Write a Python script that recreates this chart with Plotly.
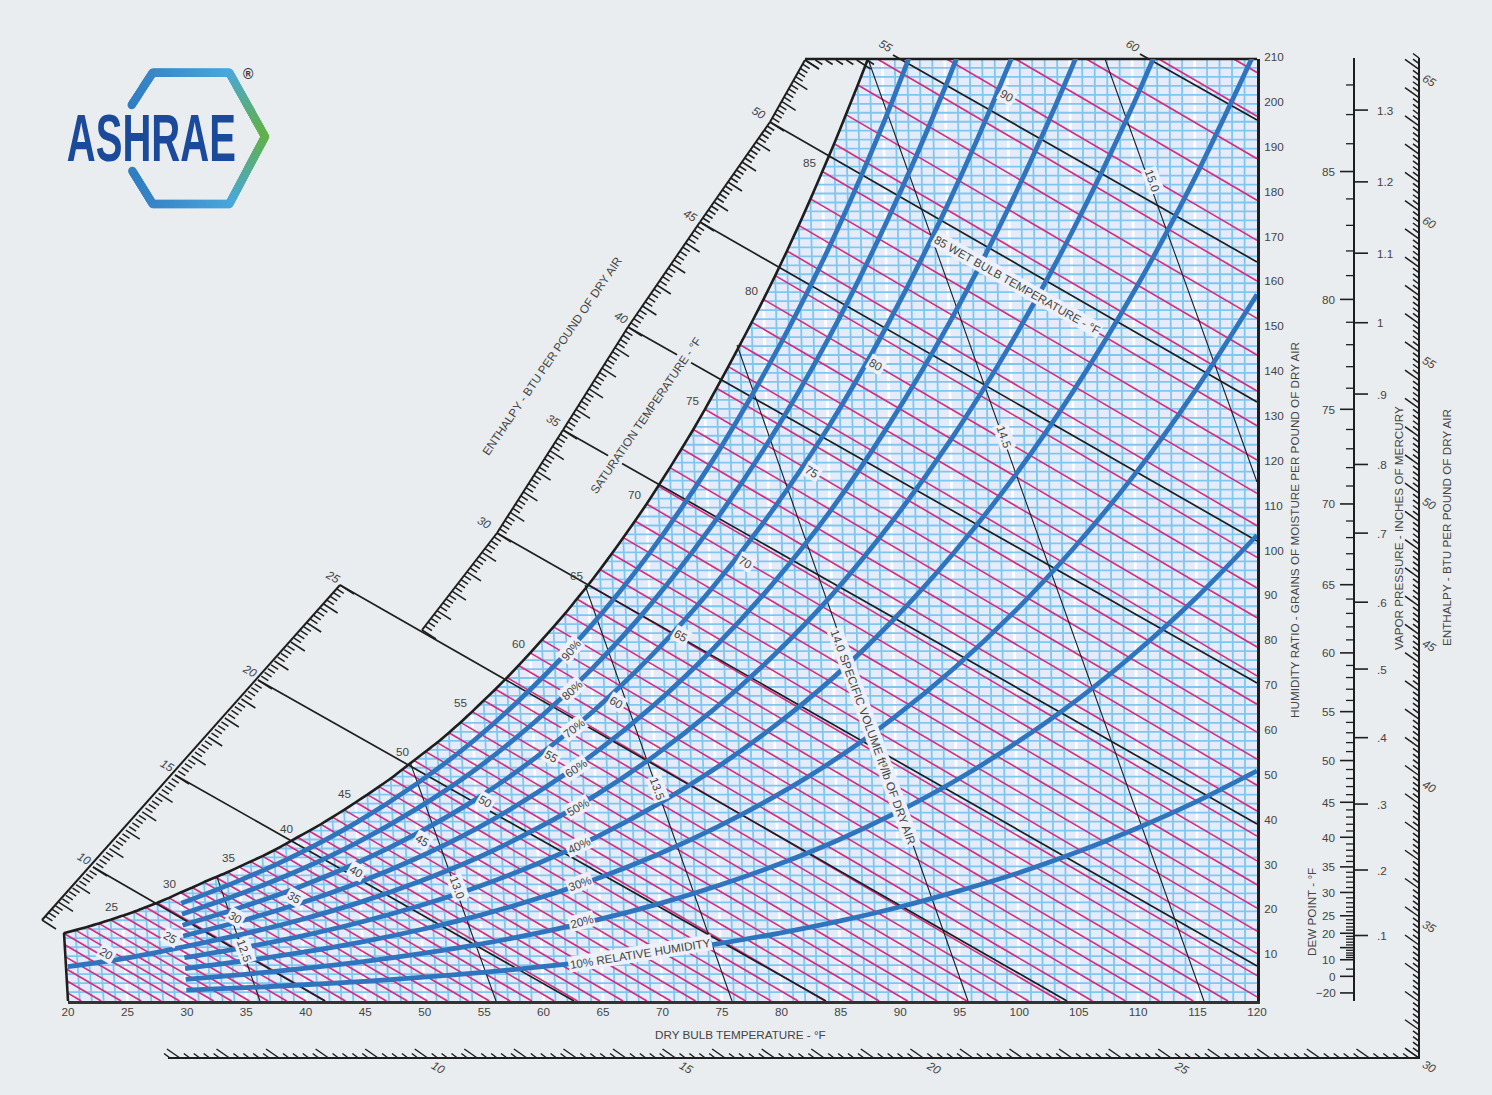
import numpy as np
import plotly.graph_objects as go

# ---------- data ----------
dry_bulb_ticks = list(range(20, 121, 5))
humidity_ticks = list(range(10, 211, 10))

sat_temp = list(range(20, 95))
sat_grains = [15.1, 15.8, 16.5, 17.3, 18.1, 19.0, 19.9, 20.9, 21.9, 23.0,
              24.2, 25.3, 26.5, 27.6, 28.7, 29.9, 31.1, 32.3, 33.6, 35.0,
              36.5, 37.9, 39.4, 41.0, 42.6, 44.3, 46.0, 47.8, 49.6, 51.6,
              53.6, 55.6, 57.6, 59.8, 62.1, 64.5, 67.0, 69.5, 72.1, 74.8,
              77.6, 80.5, 83.4, 86.4, 89.6, 92.8, 96.2, 99.7, 103.3, 107.0,
              110.8, 114.8, 118.9, 123.1, 127.4, 131.9, 136.6, 141.4, 146.3, 151.3,
              156.4, 161.7, 167.2, 172.9, 178.8, 184.9, 191.1, 197.6, 204.2, 211.0,
              218.5, 225.9, 233.6, 241.5, 249.7]
wet_bulb_left_edge = [12.6, 9.9, 7.2, 4.5, 1.8]

rh_temp = [30, 35, 40, 45, 50, 55, 60, 65, 70, 75, 80, 85, 90, 95, 100, 105, 110, 115, 120]
rh_10 = [2.41, 2.97, 3.62, 4.39, 5.30, 6.37, 7.64, 9.11, 10.83, 12.84, 15.15, 17.81, 20.9, 24.5, 28.5, 33.2, 38.5, 44.5, 51.3]
rh_20 = [4.82, 5.95, 7.25, 8.79, 10.62, 12.75, 15.30, 18.25, 21.72, 25.76, 30.41, 35.78, 42.03, 49.2, 57.5, 66.9, 77.7, 89.9, 103.8]
rh_30 = [7.23, 8.93, 10.89, 13.20, 15.94, 19.15, 23.0, 27.44, 32.66, 38.76, 45.78, 53.88, 63.35, 74.25, 86.75, 101.1, 117.4, 136.2, 157.5]
rh_40 = [9.65, 11.91, 14.53, 17.61, 21.28, 25.57, 30.71, 36.65, 43.66, 51.83, 61.26, 72.15, 84.89, 99.6, 116.4, 135.8, 158.0, 183.5, 212.6]
rh_50 = [12.07, 14.9, 18.17, 22.04, 26.64, 32.0, 38.46, 45.9, 54.7, 64.97, 76.8, 90.5, 106.6, 125.1, 146.5, 171.1, 199.4, 231.8]
rh_60 = [14.49, 17.89, 21.83, 26.47, 32.0, 38.47, 46.24, 55.2, 65.8, 78.2, 92.5, 109.1, 128.6, 151.0, 177.0, 207.0, 241.5]
rh_70 = [16.9, 20.9, 25.49, 30.92, 37.38, 44.95, 54.03, 64.55, 76.98, 91.5, 108.3, 127.8, 150.7, 177.2, 207.9, 243.4]
rh_80 = [19.34, 23.89, 29.15, 35.37, 42.78, 51.45, 61.87, 73.93, 88.2, 104.9, 124.2, 146.7, 173.1, 203.7, 239.2]
rh_90 = [21.77, 26.89, 32.82, 39.83, 48.18, 57.96, 69.71, 83.35, 99.47, 118.4, 140.3, 165.7, 195.7, 230.5]
rh_50_low_temp = [20, 25]
rh_50_low = [7.6, 9.5]

dew_point_major = [-20, 0, 10, 20, 25, 30, 35, 40, 45, 50, 55, 60, 65, 70, 75, 80, 85]
dew_point_major_grains = [1.8, 5.5, 9.2, 15.1, 19.0, 24.2, 29.9, 36.5, 44.3, 53.6, 64.5, 77.6, 92.8, 110.8, 131.9, 156.4, 184.9]
dew_point_low_minor_grains = [7.1, 9.7, 10.2, 10.7, 11.3, 12.5, 13.1, 13.8, 14.4]
dew_point_15_grains = 11.9
vapor_labels = ["1.3", "1.2", "1.1", "1", ".9", ".8", ".7", ".6", ".5", ".4", ".3", ".2", ".1"]
vapor_grains = [198.6, 182.6, 166.7, 151.2, 135.3, 119.6, 104.3, 88.9, 74.0, 58.7, 43.9, 29.2, 14.6]

enthalpy_values = [10, 15, 20, 25, 30, 35, 40, 45, 50, 55, 60]

BG = "#E9EDF0"
FILL = "#E6EBFA"
GRID = "#7FC7EF"
PINK = "#D42C7C"
BLUE = "#2F74BD"
INK = "#1E1E1E"
TXT = "#444444"
FONT = "Liberation Sans"
FS = 11.7
W_PX, H_PX = 1492, 1095

# ---------- geometry helpers ----------
def X(px):
    return 20 + (np.asarray(px, float) - 68) / 11.89

def Y(py):
    return (1001 - np.asarray(py, float)) / 4.486

def PX(px):
    return px / W_PX

def PY(py):
    return 1 - py / H_PX

def skew(t, w):
    t = np.asarray(t, float)
    return t - 0.000241 * (120 - t) * np.asarray(w, float)

st = np.array(sat_temp, float)
sw = np.array(sat_grains, float)

def join(segs):
    xs, ys = [], []
    for (a, b) in segs:
        xs += [a[0], b[0], None]
        ys += [a[1], b[1], None]
    return xs, ys

fig = go.Figure()

def lines(x, y, color, width, **kw):
    fig.add_trace(go.Scatter(x=x, y=y, mode="lines", line=dict(color=color, width=width, **kw),
                             hoverinfo="skip", showlegend=False))

def seg_px(pairs, color, width):
    segs = [((float(X(a)), float(Y(b))), (float(X(c)), float(Y(d)))) for a, b, c, d in pairs]
    x, y = join(segs)
    lines(x, y, color, width)

# chart area
t_top = float(np.interp(210, sw, st))
mask = st <= t_top
cx = list(skew(st[mask], sw[mask])) + [float(skew(t_top, 210)), 120, 120, 20]
cy = list(sw[mask]) + [210, 210, 0, 0]
fig.add_trace(go.Scatter(x=cx, y=cy, mode="none", fill="toself", fillcolor=FILL,
                         hoverinfo="skip", showlegend=False))

# dry bulb and humidity grid
def vline(t):
    top = min(float(np.interp(t, st, sw)), 210)
    return ((float(t), 0), (float(skew(t, top)), top))

x, y = join([vline(t) for t in range(20, 120, 5)])
lines(x, y, "#FFFFFF", 2.6)
segs = []
for w in range(2, 210, 2):
    t0 = float(np.interp(w, sw, st))
    segs.append(((float(skew(t0, w)), w), (120, w)))
x, y = join(segs)
lines(x, y, GRID, 1.8)
x, y = join([vline(t) for t in range(21, 120) if t % 5])
lines(x, y, GRID, 1.8)

# wet bulb lines
K = 1.55
segs = []
starts = [(float(skew(t, w)), float(w)) for t, w in zip(st, sw)] + \
         [(float(skew(20, w)), float(w)) for w in wet_bulb_left_edge]
for x0, w0 in starts:
    if w0 > 210:
        x0 += (w0 - 210) / K
        w0 = 210
    x1 = x0 + w0 / K
    w1 = 0.0
    if x1 > 120:
        x1 = 120.0
        w1 = w0 - K * (120 - x0)
    if x0 < 120:
        segs.append(((x0, w0), (x1, w1)))
x, y = join(segs)
lines(x, y, PINK, 1.6)

# enthalpy lines (pixels)
seg_px([(93, 867, 325, 1001), (175, 775, 574, 1001), (258, 680, 826, 1001), (340, 585, 1067, 1001),
        (497, 533, 1257, 966), (563, 430, 1257, 824), (628, 327, 1257, 683), (700, 222, 1257, 541),
        (770, 122, 1257, 402), (893, 55, 1257, 262), (1140, 54, 1257, 120)], INK, 1.7)

# specific volume lines
seg_px([(217, 877, 260, 1001), (410, 762, 496, 1001), (585, 585, 732, 1001),
        (737, 345, 968, 1001), (868, 59, 1204, 1001), (1105, 59, 1257, 482)], INK, 1.1)

# saturation curve and frame
lines(list(cx[:-3]), list(cy[:-3]), INK, 2.6, shape="spline", smoothing=0.5)
seg_px([(64, 933, 68, 1001), (805, 59, 1257, 59)], INK, 2.6)

# enthalpy hatch scales
def hatch(h_pos, x_pos, y_pos, long_v, short_v, width=1.5, step=0.2):
    pairs = []
    h0, h1 = h_pos[0], h_pos[-1]
    n = int(round((h1 - h0) / step))
    for i in range(n + 1):
        h = h0 + i * step
        px = float(np.interp(h, h_pos, x_pos))
        py = float(np.interp(h, h_pos, y_pos))
        is_long = abs(h - round(h)) < 1e-6
        v = long_v if is_long else short_v
        pairs.append((px, py, px + v[0], py + v[1]))
    seg_px(pairs, INK, width)

hatch([7, 10, 15, 20, 25], [42, 93, 175, 258, 340], [920, 867, 775, 680, 585], (14, 9), (7, 4.5))
hatch([25, 30, 35, 40, 45, 50, 53], [422, 497, 563, 628, 700, 770, 805], [630, 533, 430, 327, 222, 122, 60], (14, 9), (7, 4.5))
hatch([53, 54.2], [805, 867], [60, 60], (14, 9), (7, 4.5))
seg_px([(42, 920, 340, 585), (422, 630, 497, 533), (497, 533, 563, 430), (563, 430, 628, 327),
        (628, 327, 700, 222), (700, 222, 770, 122), (770, 122, 805, 60)], INK, 2.0)
hatch([30, 65.4], [1419, 1419], [1058, 58], (-14, -10), (-6, -4.5))
hatch([4.8, 30], [170, 1419], [1058, 1058], (-13, -9), (-6, -4.5))
seg_px([(1419, 58, 1419, 1059), (168, 1058, 1420, 1058)], INK, 2.0)

# dew point and vapor pressure scale
DEW_X = 1354
seg_px([(DEW_X, 58, DEW_X, 1001)], INK, 2.0)
def ytick(w, dx):
    py = 1001 - w * 4.486
    return (DEW_X, py, DEW_X + dx, py)
seg_px([ytick(w, -14) for w in dew_point_major_grains + [dew_point_15_grains]], INK, 1.6)
minor = [float(np.interp(t, st, sw)) for t in range(21, 89) if t % 5] + dew_point_low_minor_grains
seg_px([ytick(w, -8) for w in minor], INK, 1.3)
seg_px([ytick(w, 14) for w in vapor_grains], INK, 1.6)

# logo ring
ring_px = [(131.7, 105), (152.7, 72.7), (229.3, 72.7), (265, 136.7), (229.3, 204), (152.7, 204), (131.7, 170)]
ring_col = [(47, 127, 193), (58, 134, 200), (74, 168, 220), (98, 178, 70), (74, 168, 220), (58, 134, 200), (47, 127, 193)]
rx, ry, rc = [], [], []
for i in range(len(ring_px) - 1):
    a, b = ring_px[i], ring_px[i + 1]
    ca, cb = ring_col[i], ring_col[i + 1]
    n = int(max(abs(b[0] - a[0]), abs(b[1] - a[1])))
    for k in range(n):
        f = k / n
        rx.append(a[0] + (b[0] - a[0]) * f)
        ry.append(a[1] + (b[1] - a[1]) * f)
        rc.append("rgb(%d,%d,%d)" % tuple(ca[j] + (cb[j] - ca[j]) * f for j in range(3)))
fig.add_trace(go.Scatter(x=X(rx), y=Y(ry), mode="markers", hoverinfo="skip", showlegend=False,
                         marker=dict(size=8.4, color=rc, line=dict(width=0))))

# relative humidity curves, on the chart's own axes so the frame clips them
for vals in [rh_10, rh_20, rh_30, rh_40, rh_60, rh_70, rh_80, rh_90]:
    t = np.array(rh_temp[:len(vals)], float)
    fig.add_trace(go.Scatter(x=skew(t, vals), y=vals, xaxis="x2", yaxis="y2", mode="lines", hoverinfo="skip",
                             showlegend=False, line=dict(color=BLUE, width=4.8, shape="spline", smoothing=0.8)))
t = np.array(rh_50_low_temp + rh_temp[:len(rh_50)], float)
v = rh_50_low + rh_50
fig.add_trace(go.Scatter(x=skew(t, v), y=v, xaxis="x2", yaxis="y2", mode="lines", hoverinfo="skip",
                         showlegend=False, line=dict(color=BLUE, width=4.8, shape="spline", smoothing=0.8)))

# ---------- text ----------
ann = []
def label(text, px, py, angle=0, size=FS, box=None, color=TXT, pad=1, family=FONT, weight=None):
    f = dict(family=family, size=size, color=color)
    if weight:
        f["weight"] = weight
    ann.append(dict(text=text, x=PX(px), y=PY(py), xref="paper", yref="paper", showarrow=False,
                    xanchor="center", yanchor="middle", textangle=angle, font=f,
                    bgcolor=box if box else "rgba(0,0,0,0)", borderpad=pad))

for v_, px, py in zip(range(25, 90, 5),
                      [112, 170, 229, 287, 345, 403, 461, 519, 577, 635, 693, 752, 810],
                      [906, 883, 857, 828, 793, 751, 702, 643, 575, 494, 400, 290, 162]):
    label(str(v_), px, py)

for v_, px, py in zip(enthalpy_values,
                      [85, 168, 250, 333, 485, 554, 622, 691, 759, 886, 1133],
                      [858, 765, 670, 576, 522, 420, 317, 215, 113, 46, 46]):
    label("<i>%d</i>" % v_, px, py, 30)
for v_, py in zip(range(65, 29, -5), [80, 222, 362, 503, 645, 786, 926, 1066]):
    label("<i>%d</i>" % v_, 1430, py, 30)
for v_, px in zip([10, 15, 20, 25], [439, 687, 934, 1182]):
    label("<i>%d</i>" % v_, px, 1067, 30)

WB_BOX = "#EDF0F8"
for v_, px, py in zip([20, 25, 30, 35, 40, 45, 50, 55, 60, 65, 70, 75, 80, 90],
                      [107, 171, 236, 295, 357, 423, 486, 552, 617, 681, 746, 812, 876, 1007],
                      [953, 937, 917, 897, 871, 840, 801, 756, 702, 636, 562, 472, 365, 96]):
    label(str(v_), px, py, 30, box=WB_BOX)
label("85 WET BULB TEMPERATURE - °F", 1017, 285, 29.5, box=WB_BOX)

for text, px, py, a in [("90%", 570, 650, -50), ("80%", 571, 690, -42), ("70%", 573, 728, -38),
                        ("60%", 575, 768, -33), ("50%", 577, 807, -30), ("40%", 578, 845, -25),
                        ("30%", 579, 883, -20), ("20%", 581, 921, -15),
                        ("10% RELATIVE HUMIDITY", 640, 953, -9)]:
    label(text, px, py, a, box=WB_BOX)

for text, px, py in [("12.5", 245, 950), ("13.0", 458, 887), ("13.5", 658, 788), ("14.5", 1005, 437), ("15.0", 1153, 180)]:
    label(text, px, py, 70, box=WB_BOX)
label("14.0 SPECIFIC VOLUME ft³/lb OF DRY AIR", 874, 737, 70, box=WB_BOX)

label("ENTHALPY - BTU PER POUND OF DRY AIR", 551, 356, -55.6)
label("SATURATION TEMPERATURE - °F", 645, 415, -55.6, box=BG)
label("DRY BULB TEMPERATURE - °F", 740, 1034)
label("DEW POINT - °F", 1311, 912, -90)
label("VAPOR PRESSURE - INCHES OF MERCURY", 1398, 528, -90)
label("ENTHALPY - BTU PER POUND OF DRY AIR", 1446, 528, -90)

for v_, w in zip(dew_point_major, dew_point_major_grains):
    ann.append(dict(text=("−20" if v_ < 0 else str(v_)), x=PX(1338), y=PY(1001 - w * 4.486), xref="paper", yref="paper",
                    showarrow=False, xanchor="right", yanchor="middle", font=dict(family=FONT, size=FS, color=TXT)))
for s_, w in zip(vapor_labels, vapor_grains):
    ann.append(dict(text=s_, x=PX(1375), y=PY(1001 - w * 4.486), xref="paper", yref="paper",
                    showarrow=False, xanchor="left", yanchor="middle", font=dict(family=FONT, size=FS, color=TXT)))

label("ASHRAE", 151.5, 138, 0, size=66, color="#1C4A9A", weight="bold")
label("®", 248, 74, 0, size=14, color="#333333", weight="bold")

axis_font = dict(family=FONT, size=FS, color=TXT)
fig.update_layout(
    width=W_PX, height=H_PX,
    margin=dict(l=0, r=0, t=0, b=0, autoexpand=False),
    paper_bgcolor=BG, plot_bgcolor="rgba(0,0,0,0)",
    showlegend=False,
    annotations=ann,
    font=dict(family=FONT, size=FS, color=TXT),
    # whole-page axes in the same units as the chart axes
    xaxis=dict(domain=[0, 1], range=[float(X(0)), float(X(W_PX))], visible=False, showgrid=False, zeroline=False),
    yaxis=dict(domain=[0, 1], range=[float(Y(H_PX)), float(Y(0))], visible=False, showgrid=False, zeroline=False),
    xaxis2=dict(domain=[68 / W_PX, 1257 / W_PX], anchor="y2", range=[20, 120], tickvals=dry_bulb_ticks,
                showgrid=False, zeroline=False, showline=True, linecolor="#333333", linewidth=2.6,
                ticks="", tickfont=axis_font, ticklabelstandoff=-2),
    yaxis2=dict(domain=[1 - 1001 / H_PX, 1 - 59 / H_PX], anchor="x2", range=[0, 210], side="right",
                tickvals=humidity_ticks, showgrid=False, zeroline=False, showline=True, linecolor=INK,
                linewidth=2.6, ticks="outside", ticklen=2, tickwidth=1, tickcolor="rgba(0,0,0,0)",
                tickfont=axis_font, ticklabelshift=-2,
                title=dict(text="HUMIDITY RATIO - GRAINS OF MOISTURE PER POUND OF DRY AIR", standoff=8,
                           font=axis_font)),
)
post = """
document.body.style.margin='0';document.body.style.background='%s';
document.querySelectorAll('.annotation-text').forEach(function(t){
  if(t.textContent==='ASHRAE'){t.setAttribute('textLength','169');t.setAttribute('lengthAdjust','spacingAndGlyphs');}
});
""" % BG
fig.write_html("out.html", post_script=post, config={"displayModeBar": False})
